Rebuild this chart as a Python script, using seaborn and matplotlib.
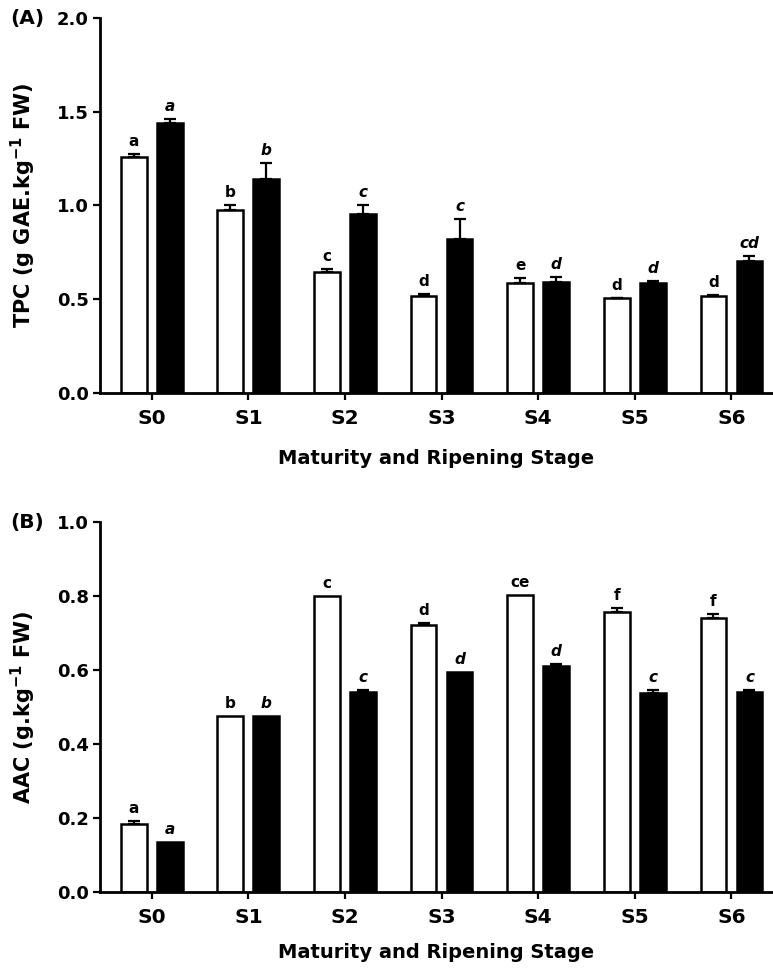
import numpy as np
import pandas as pd
import matplotlib
matplotlib.use("Agg")
import matplotlib.pyplot as plt
import seaborn as sns

sns.set_theme(style="ticks")
plt.rcParams['font.family'] = ['DejaVu Sans']
plt.rcParams['font.weight'] = 'bold'
plt.rcParams['text.color'] = 'black'
plt.rcParams['axes.labelcolor'] = 'black'
plt.rcParams['mathtext.fontset'] = 'custom'
plt.rcParams['mathtext.rm'] = 'DejaVu Sans:bold'
plt.rcParams['mathtext.bf'] = 'DejaVu Sans:bold'
plt.rcParams['mathtext.it'] = 'DejaVu Sans:bold:italic'
plt.rcParams['mathtext.default'] = 'bf'

stages = ["S0", "S1", "S2", "S3", "S4", "S5", "S6"]
groups = ["open", "filled"]

# Panel A: TPC
tpc_white = [1.257, 0.976, 0.645, 0.515, 0.586, 0.504, 0.518]
tpc_white_err = [0.016, 0.025, 0.014, 0.012, 0.025, 0.004, 0.006]
tpc_black = [1.442, 1.140, 0.956, 0.819, 0.593, 0.586, 0.705]
tpc_black_err = [0.018, 0.085, 0.045, 0.110, 0.023, 0.012, 0.024]
tpc_white_lab = ["a", "b", "c", "d", "e", "d", "d"]
tpc_black_lab = ["a", "b", "c", "c", "d", "d", "cd"]

# Panel B: AAC
aac_white = [0.182, 0.476, 0.801, 0.721, 0.803, 0.756, 0.742]
aac_white_err = [0.010, 0.0, 0.0, 0.006, 0.0, 0.011, 0.010]
aac_black = [0.134, 0.476, 0.540, 0.596, 0.610, 0.537, 0.540]
aac_black_err = [0.0, 0.0, 0.006, 0.0, 0.007, 0.010, 0.005]
aac_white_lab = ["a", "b", "c", "d", "ce", "f", "f"]
aac_black_lab = ["a", "b", "c", "d", "d", "c", "c"]

fig = plt.figure(figsize=(7.73, 9.74), dpi=100)
axA = fig.add_axes([0.1294, 0.5968, 0.8706, 0.3847])
axB = fig.add_axes([0.1294, 0.0845, 0.8706, 0.3793])


def panel(ax, white, werr, black, berr, wlab, blab, ylim, yticks, ylabel, tag,
          xlab_y):
    df = pd.DataFrame({
        "stage": stages * 2,
        "group": [groups[0]] * len(stages) + [groups[1]] * len(stages),
        "value": list(white) + list(black),
    })
    sns.barplot(data=df, x="stage", y="value", hue="group", order=stages,
                hue_order=groups, palette={"open": "white", "filled": "black"},
                width=0.745, gap=0.285, edgecolor="black", linewidth=1.8,
                errorbar=None, legend=False, ax=ax)
    conts = ax.containers
    for cont, vals, errs, labs, ital in [(conts[0], white, werr, wlab, False),
                                         (conts[1], black, berr, blab, True)]:
        for bar, v, e, lab in zip(cont.patches, vals, errs, labs):
            xc = bar.get_x() + bar.get_width() / 2
            if e > 0:
                ax.errorbar([xc], [v], yerr=[[0], [e]], fmt="none", ecolor="black",
                            elinewidth=1.6, capsize=4, capthick=1.6, zorder=3)
            ax.annotate(lab, (xc, v + e), xytext=(0, 3.5), textcoords="offset points",
                        ha="center", va="bottom", fontsize=11, fontweight="bold",
                        color="black",
                        fontstyle="italic" if ital else "normal")
    ax.set_xlim(-0.535, 6.43)
    ax.set_ylim(*ylim)
    ax.set_yticks(yticks)
    ax.set_yticklabels([f"{t:.1f}" for t in yticks])
    sns.despine(ax=ax)
    for s in ["left", "bottom"]:
        ax.spines[s].set_linewidth(2.0)
        ax.spines[s].set_color("black")
    ax.tick_params(axis="both", length=5, width=1.6, color="black",
                   labelcolor="black")
    ax.tick_params(axis="y", labelsize=13, pad=3)
    ax.tick_params(axis="x", labelsize=14.5, pad=7)
    ax.set_xlabel("Maturity and Ripening Stage", fontsize=14, fontweight="bold",
                  color="black")
    ax.set_ylabel(ylabel, fontsize=15, fontweight="bold", color="black")
    ax.yaxis.label.set_va("center")
    ax.yaxis.set_label_coords(-0.114, 0.5)
    ax.xaxis.set_label_coords(0.5, xlab_y)
    ax.patch.set_visible(False)
    ax.text(-0.134, 1.0, tag, transform=ax.transAxes, fontsize=14.5,
            fontweight="bold", ha="left", va="center", color="black")


panel(axA, tpc_white, tpc_white_err, tpc_black, tpc_black_err, tpc_white_lab,
      tpc_black_lab, (0, 2.0), [0.0, 0.5, 1.0, 1.5, 2.0],
      r"TPC (g GAE.kg$^{-1}$ FW)", "(A)", -0.150)
panel(axB, aac_white, aac_white_err, aac_black, aac_black_err, aac_white_lab,
      aac_black_lab, (0, 1.0), [0.0, 0.2, 0.4, 0.6, 0.8, 1.0],
      r"AAC (g.kg$^{-1}$ FW)", "(B)", -0.139)

fig.savefig("out.png", dpi=100)
